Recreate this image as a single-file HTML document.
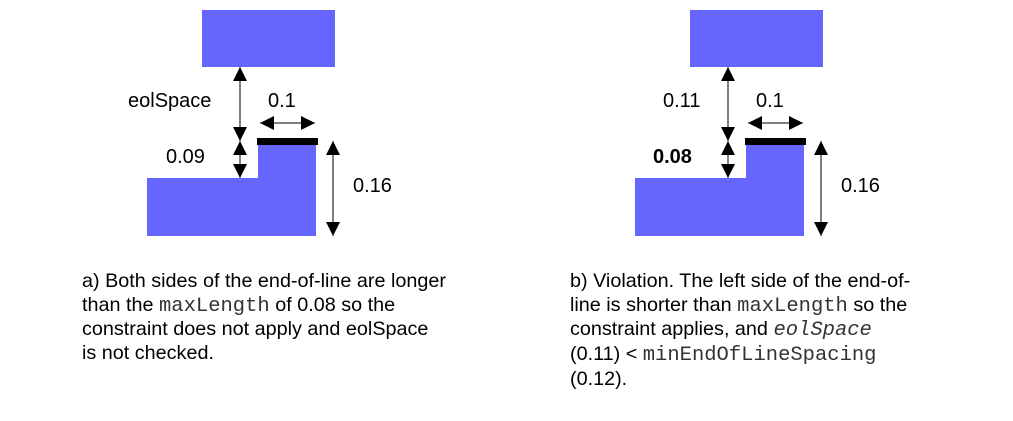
<!DOCTYPE html>
<html><head><meta charset="utf-8"><style>
body{margin:0;background:#fff;width:1013px;height:421px;overflow:hidden;position:relative;font-family:"Liberation Sans",sans-serif;}
svg{position:absolute;left:0;top:0}
.cap{position:absolute;font-size:19.8px;line-height:23.7px;color:#000;white-space:nowrap}
.m{font-family:"Liberation Mono",monospace;font-size:20.5px;color:#333}
.lbl{font-family:"Liberation Sans",sans-serif;font-size:20px}
</style></head><body>
<svg width="1013" height="421">
<defs>
<marker id="ah" viewBox="0 0 10 10" refX="10" refY="5" markerWidth="14" markerHeight="14" markerUnits="userSpaceOnUse" orient="auto-start-reverse"><path d="M0,0 L10,5 L0,10 z" fill="#000"/></marker>
</defs>
<g>
<rect x="202" y="10" width="133" height="57" fill="#6666ff"/>
<path d="M147,178 H258 V145 H316 V236 H147 Z" fill="#6666ff"/>
<rect x="257" y="138" width="61" height="7" fill="#000"/>
<line x1="240" y1="67" x2="240" y2="141" stroke="#000" marker-start="url(#ah)" marker-end="url(#ah)"/>
<line x1="240" y1="141" x2="240" y2="178" stroke="#000" marker-start="url(#ah)" marker-end="url(#ah)"/>
<line x1="260" y1="123" x2="315" y2="123" stroke="#000" marker-start="url(#ah)" marker-end="url(#ah)"/>
<line x1="333" y1="141" x2="333" y2="236" stroke="#000" marker-start="url(#ah)" marker-end="url(#ah)"/>
<text class="lbl" x="128" y="107">eolSpace</text>
<text class="lbl" x="268" y="107">0.1</text>
<text class="lbl" x="166" y="163">0.09</text>
<text class="lbl" x="353" y="192">0.16</text>
</g>
<g transform="translate(488,0)">
<rect x="202" y="10" width="133" height="57" fill="#6666ff"/>
<path d="M147,178 H258 V145 H316 V236 H147 Z" fill="#6666ff"/>
<rect x="257" y="138" width="61" height="7" fill="#000"/>
<line x1="240" y1="67" x2="240" y2="141" stroke="#000" marker-start="url(#ah)" marker-end="url(#ah)"/>
<line x1="240" y1="141" x2="240" y2="178" stroke="#000" marker-start="url(#ah)" marker-end="url(#ah)"/>
<line x1="260" y1="123" x2="315" y2="123" stroke="#000" marker-start="url(#ah)" marker-end="url(#ah)"/>
<line x1="333" y1="141" x2="333" y2="236" stroke="#000" marker-start="url(#ah)" marker-end="url(#ah)"/>
<text class="lbl" x="175" y="107">0.11</text>
<text class="lbl" x="268" y="107">0.1</text>
<text class="lbl" x="165" y="163" font-weight="bold">0.08</text>
<text class="lbl" x="353" y="192">0.16</text>
</g>
</svg>
<div class="cap" style="left:82px;top:270px">a) Both sides of the end-of-line are longer<br>than the <span class="m">maxLength</span> of 0.08 so the<br>constraint does not apply and eolSpace<br>is not checked.</div>
<div class="cap" style="left:570px;top:270px">b) Violation. The left side of the end-of-<br>line is shorter than <span class="m">maxLength</span> so the<br>constraint applies, and <span class="m" style="font-style:italic">eolSpace</span><br>(0.11) &lt; <span class="m">minEndOfLineSpacing</span><br>(0.12).</div>
</body></html>
